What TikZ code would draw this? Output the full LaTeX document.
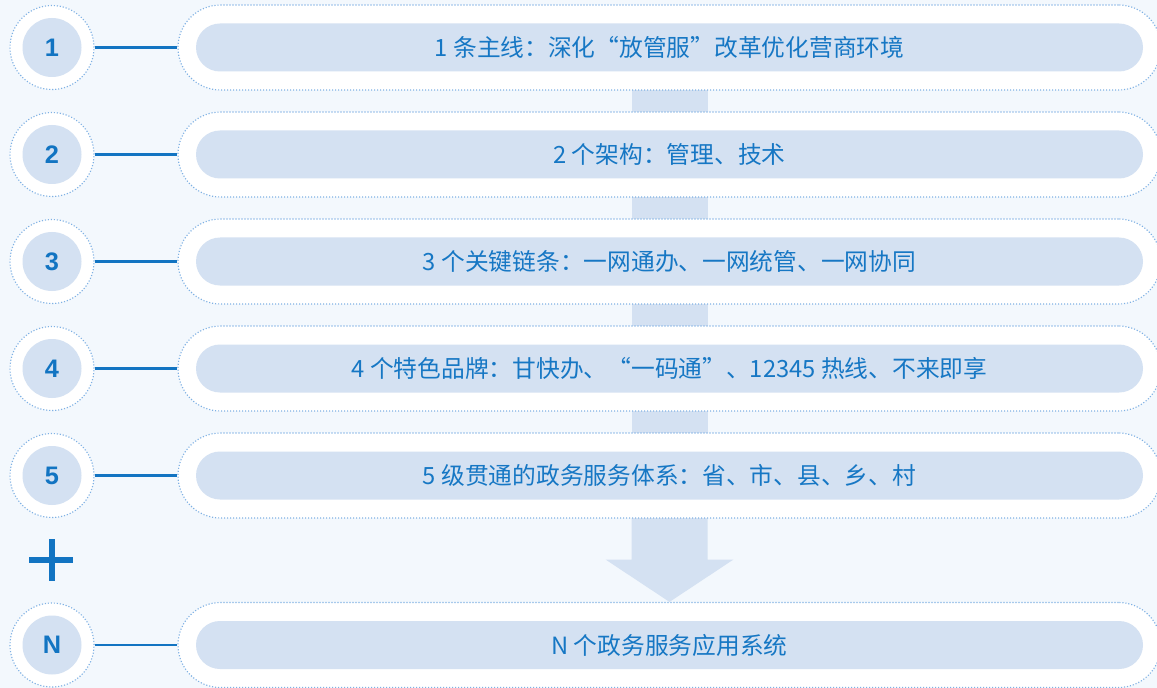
\documentclass[tikz,border=0pt]{standalone}
\usepackage{fontspec}
\newfontfamily\cjk{Noto Sans CJK SC}
\newfontfamily\numf{Liberation Sans}
\usetikzlibrary{backgrounds}
\definecolor{bgc}{HTML}{F3F8FD}
\definecolor{pillc}{HTML}{D4E1F2}
\definecolor{dotc}{HTML}{7FB1E4}
\definecolor{txtc}{HTML}{1677C4}
\definecolor{linec}{HTML}{1274C2}
\tikzset{
  outercirc/.style={circle,fill=white,draw=dotc,line width=0.85pt,dash pattern=on 0.85pt off 1.4pt,minimum size=63pt,inner sep=0pt},
  innercirc/.style={circle,fill=pillc,minimum size=44.25pt,inner sep=0pt,text=linec,font=\numf\bfseries\fontsize{19}{19}\selectfont},
  outerpill/.style={rectangle,fill=white,draw=dotc,line width=0.85pt,dash pattern=on 0.85pt off 1.4pt,minimum width=737.25pt,minimum height=63.75pt,rounded corners=31.875pt,inner sep=0pt},
  innerpill/.style={rectangle,fill=pillc,minimum width=710.25pt,minimum height=36pt,rounded corners=18pt,inner sep=0pt,text=txtc,font=\cjk\fontsize{17.8}{17.8}\selectfont},
  link/.style={draw=linec,line width=1.6pt},
  shaft/.style={fill=pillc},
}
\begin{document}
\begin{tikzpicture}[x=0.75pt,y=-0.75pt]
\useasboundingbox (0,0) rectangle (1157,688);
\clip (0,0) rectangle (1157,688);
\begin{pgfonlayer}{background}
\fill[bgc] (0,0) rectangle (1157,688);
\end{pgfonlayer}
% rows
\foreach \i/\y/\lab/\txt in {
  1/47.5/1/{1 条主线：深化“放管服”改革优化营商环境},
  2/154.5/2/{2 个架构：管理、技术},
  3/261.5/3/{3 个关键链条：一网通办、一网统管、一网协同},
  4/368.5/4/{4 个特色品牌：甘快办、“一码通”、12345 热线、不来即享},
  5/475.5/5/{5 级贯通的政务服务体系：省、市、县、乡、村},
  N/645/N/{N 个政务服务应用系统}}{
  \node[outercirc] (o\i) at (52,\y) {};
  \node[innercirc] (c\i) at (52,\y) {\lab};
  \node[outerpill] (p\i) at (669.5,\y) {};
  \node[innerpill] (q\i) at (669.5,\y) {\txt};
  \draw[link] (o\i.east) -- (p\i.west);
}
% connecting shafts between rows
\begin{pgfonlayer}{background}
\foreach \a/\b in {1/2,2/3,3/4,4/5}{
  \fill[shaft] ([xshift=-28.5pt]p\a.center) rectangle ([xshift=28.5pt]p\b.center);
}
% big arrow
\fill[shaft] ([xshift=-28.5pt]p5.center) -- ([xshift=-28.5pt,yshift=-63pt]p5.center)
  -- ([xshift=-48pt,yshift=-63pt]p5.center) -- (pN.north)
  -- ([xshift=48pt,yshift=-63pt]p5.center) -- ([xshift=28.5pt,yshift=-63pt]p5.center)
  -- ([xshift=28.5pt]p5.center) -- cycle;
\end{pgfonlayer}
% plus sign
\fill[linec] (29,557) rectangle (73,563);
\fill[linec] (48.5,539) rectangle (54.5,581);
\end{tikzpicture}
\end{document}
